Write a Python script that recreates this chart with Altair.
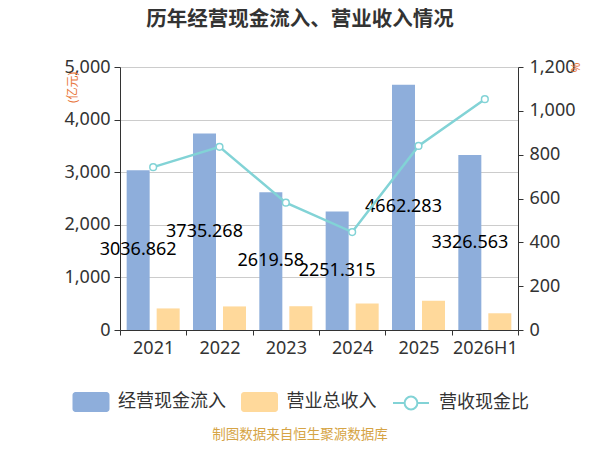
import altair as alt
import pandas as pd

# values
years = ["2021", "2022", "2023", "2024", "2025", "2026H1"]
cash_inflow = [3036.862, 3735.268, 2619.58, 2251.315, 4662.283, 3326.563]  # 经营现金流入(亿元)
revenue = [410, 448, 452, 505, 556, 318]  # 营业总收入(亿元), estimated
ratio = [743, 836, 581, 447, 840, 1053]  # 营收现金比(%), estimated
series = ["经营现金流入", "营业总收入"]
line_name = ["营收现金比"]
note = ["制图数据来自恒生聚源数据库"]

FONT = "'Noto Sans', 'Noto Sans CJK SC', sans-serif"
BLUE, ORANGE, TEAL = "#8eaedb", "#ffd99b", "#82d3d6"
ACCENT = "#e8763a"

bar_df = pd.DataFrame({
    "year": years * 2,
    "series": [series[0]] * len(years) + [series[1]] * len(years),
    "value": cash_inflow + revenue,
})
label_df = pd.DataFrame({
    "year": years,
    "series": series[0],
    "value": cash_inflow,
    "label": [str(v) for v in cash_inflow],
})
line_df = pd.DataFrame({"year": years, "ratio": ratio, "name": line_name * len(years)})
note_df = pd.DataFrame({"note": note})

# legend symbols as paths in [-1, 1] units (vega scales them by sqrt(symbolSize)/2 = 20px)
RECT = ("M-0.775,-0.5H0.775A0.15,0.15 0 0 1 0.925,-0.35V0.35"
        "A0.15,0.15 0 0 1 0.775,0.5H-0.775A0.15,0.15 0 0 1 -0.925,0.35"
        "V-0.35A0.15,0.15 0 0 1 -0.775,-0.5Z")
LINE_DOT = ("M-0.9,0H-0.32M0.32,0H0.9"
            "M-0.32,0A0.32,0.32 0 1 1 0.32,0A0.32,0.32 0 1 1 -0.32,0Z")

x = alt.X(
    "year:N", sort=years, title=None,
    scale=alt.Scale(paddingInner=0, paddingOuter=0),
    axis=alt.Axis(labelAngle=0, tickBand="extent", grid=False, labelPadding=4),
)
left_axis = alt.Axis(
    title="(亿元)", format=",d", values=[0, 1000, 2000, 3000, 4000, 5000],
    titleAngle=270, titleX=-48, titleY=20, titleAlign="center",
    titleBaseline="middle", titleColor=ACCENT, titleFontSize=12,
    titleFontWeight="normal", grid=True, tickSize=6, labelPadding=4,
)
left_scale = alt.Scale(domain=[0, 5000], nice=False)
offset = alt.XOffset(
    "series:N", sort=series,
    scale=alt.Scale(paddingInner=0.233, paddingOuter=0.222),
)

bars = alt.Chart(bar_df).mark_bar().encode(
    x=x,
    xOffset=offset,
    y=alt.Y("value:Q", scale=left_scale, axis=left_axis),
    color=alt.Color(
        "series:N", sort=series,
        scale=alt.Scale(domain=series, range=[BLUE, ORANGE]),
        legend=alt.Legend(
            title=None, orient="none", legendX=-49, legendY=315,
            direction="horizontal", symbolType=RECT, symbolSize=1600,
            symbolStrokeWidth=0, labelOffset=7, columnPadding=13.5, padding=0,
        ),
    ),
)

labels = alt.Chart(label_df).mark_text(fontSize=18, color="black").transform_calculate(
    mid="datum.value / 2"
).encode(
    x=x,
    xOffset=offset,
    y=alt.Y("mid:Q", scale=left_scale, axis=left_axis),
    text="label:N",
)

line = alt.Chart(line_df).mark_line(
    strokeWidth=2.5,
    point=alt.OverlayMarkDef(filled=False, fill="white", size=45, strokeWidth=1.5),
).encode(
    x=x,
    y=alt.Y(
        "ratio:Q",
        scale=alt.Scale(domain=[0, 1200], nice=False),
        axis=alt.Axis(
            title="%", orient="right", format=",d",
            values=[0, 200, 400, 600, 800, 1000, 1200],
            titleAngle=270, titleX=57, titleY=0, titleAlign="center",
            titleBaseline="middle", titleColor=ACCENT, titleFontSize=12,
            titleFontWeight="normal", grid=False, tickSize=5, labelPadding=6,
        ),
    ),
    stroke=alt.Stroke(
        "name:N",
        scale=alt.Scale(domain=line_name, range=[TEAL]),
        legend=alt.Legend(
            title=None, orient="none", legendX=270, legendY=315,
            symbolType=LINE_DOT, symbolSize=1600, symbolStrokeWidth=2,
            symbolFillColor="white", labelOffset=7, padding=0,
        ),
    ),
)

footer = alt.Chart(note_df).mark_text(
    fontSize=13.5, color="#d6a445", font=FONT
).encode(
    x=alt.value(180), y=alt.value(368), text="note:N",
)

chart = alt.layer(
    alt.layer(bars, labels), line, footer
).resolve_scale(
    y="independent"
).properties(
    width=398,
    height=263,
    autosize=alt.AutoSizeParams(type="none"),
    padding={"left": 112, "top": 59, "right": 70, "bottom": 112},
    title=alt.Title(
        "历年经营现金流入、营业收入情况", fontSize=20.5, fontWeight="bold",
        color="#333333", anchor="middle", dx=-19, offset=28,
    ),
).configure(
    font=FONT,
).configure_view(
    stroke=None,
).configure_axis(
    labelFontSize=18, labelColor="#333333", domainColor="#333333",
    tickColor="#333333", gridColor="#cccccc", labelFont=FONT,
).configure_legend(
    labelFontSize=18, labelColor="#333333", labelFont=FONT,
)

chart.save("out.html", embed_options={"renderer": "svg", "actions": False})
